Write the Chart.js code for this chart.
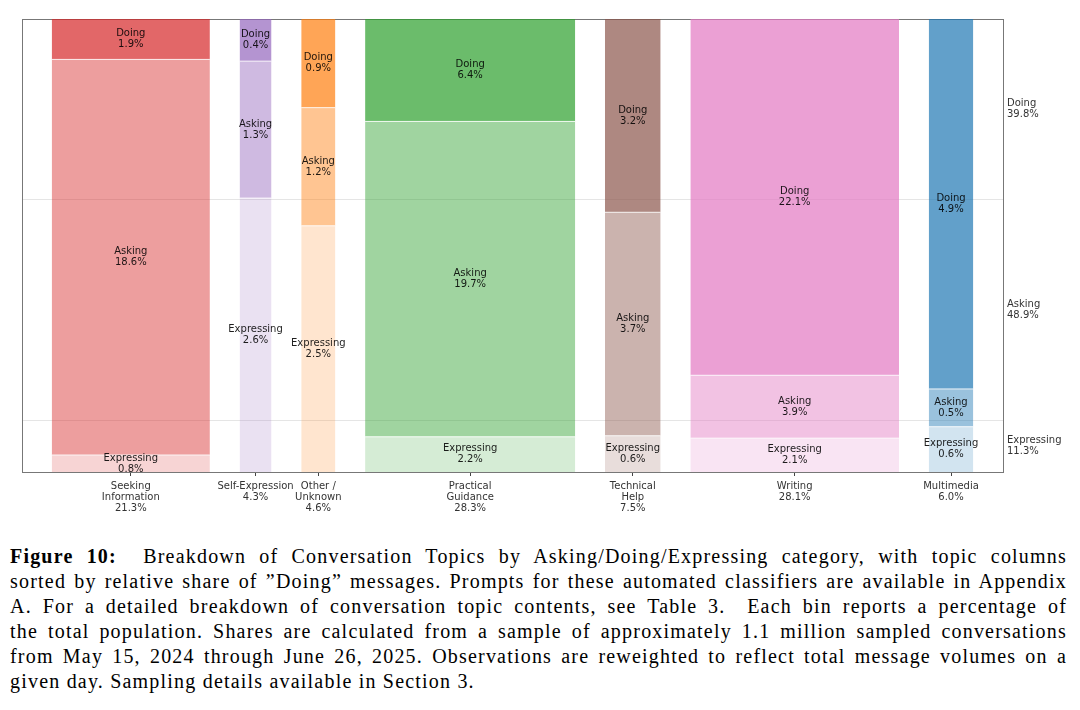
<!DOCTYPE html>
<html>
<head>
<meta charset="utf-8">
<script src="https://cdn.jsdelivr.net/npm/chart.js@4/dist/chart.umd.min.js"></script>
<style>
  html, body { margin: 0; padding: 0; background: #fff; }
  body { width: 1080px; height: 710px; position: relative; overflow: hidden; }
  #wrap { position: absolute; left: 0; top: 0; width: 1080px; height: 530px; }
  #caption { position: absolute; left: 10px; top: 544px; width: 1057px;
    font-family: "Liberation Serif", "Times New Roman", serif; font-size: 20px; color: #000; }
  #caption div { line-height: 25px; height: 25px; white-space: nowrap; text-align: justify; text-align-last: justify; }
  #caption.measure div { text-align: left; text-align-last: left; }
  #caption div.last { text-align: left; text-align-last: left; }
</style>
</head>
<body>
<div id="wrap"><canvas id="c" width="1080" height="530"></canvas></div>
<div id="caption" class="measure">
  <div><span><b>Figure 10:</b>&nbsp; Breakdown of Conversation Topics by Asking/Doing/Expressing category, with topic columns</span></div>
  <div><span>sorted by relative share of ”Doing” messages. Prompts for these automated classifiers are available in Appendix</span></div>
  <div><span>A. For a detailed breakdown of conversation topic contents, see Table 3.&nbsp; Each bin reports a percentage of</span></div>
  <div><span>the total population. Shares are calculated from a sample of approximately 1.1 million sampled conversations</span></div>
  <div><span>from May 15, 2024 through June 26, 2025. Observations are reweighted to reflect total message volumes on a</span></div>
  <div class="last"><span>given day. Sampling details available in Section 3.</span></div>
</div>
<script>
// ---- data ----
const topicLabels = [['Seeking','Information'],['Self-Expression'],['Other /','Unknown'],['Practical','Guidance'],['Technical','Help'],['Writing'],['Multimedia']];
const topicShare = [21.3, 4.3, 4.6, 28.3, 7.5, 28.1, 6.0];
const expressing = [0.8, 2.6, 2.5, 2.2, 0.6, 2.1, 0.6];
const asking     = [18.6, 1.3, 1.2, 19.7, 3.7, 3.9, 0.5];
const doing      = [1.9, 0.4, 0.9, 6.4, 3.2, 22.1, 4.9];
const overallNames = ['Expressing', 'Asking', 'Doing'];
const overallShare = [11.3, 48.9, 39.8];
const topicColors = ['#d62728', '#9467bd', '#ff7f0e', '#2ca02c', '#8c564b', '#e377c2', '#1f77b4'];

// ---- caption fitting (letter spacing so widest line fits naturally) ----
(function fitCaption() {
  const cap = document.getElementById('caption');
  const spans = Array.from(cap.querySelectorAll('span'));
  let best = Infinity;
  spans.slice(0, 5).forEach(sp => {
    const w = sp.getBoundingClientRect().width;
    const n = sp.textContent.length;
    best = Math.min(best, (1044 - w) / n);
  });
  const ls = Math.max(0, Math.min(best, 1.2));
  cap.style.letterSpacing = ls.toFixed(2) + 'px';
  cap.classList.remove('measure');
})();

// ---- layout helpers ----
const GAP = 4;
const segNames = ['Expressing', 'Asking', 'Doing'];
const segValues = [expressing, asking, doing];
const segAlpha = [0.2, 0.45, 0.7];

function rgba(hex, a) {
  const n = parseInt(hex.slice(1), 16);
  return `rgba(${(n >> 16) & 255},${(n >> 8) & 255},${n & 255},${a})`;
}

const colStart = [];
let acc = GAP;
topicShare.forEach((w) => { colStart.push(acc); acc += w + GAP; });
const xMax = acc;
const colCenter = topicShare.map((w, i) => colStart[i] + w / 2);

const datasets = [];
topicShare.forEach((w, i) => {
  const sum = expressing[i] + asking[i] + doing[i];
  let bottom = 0;
  segValues.forEach((arr, s) => {
    const h = arr[i] / sum * 100;
    const top = bottom + h;
    datasets.push({
      type: 'line',
      data: [{ x: colStart[i], y: top }, { x: colStart[i] + w, y: top }],
      fill: { value: bottom },
      backgroundColor: rgba(topicColors[i], segAlpha[s]),
      borderColor: 'rgba(255,255,255,0.85)',
      borderWidth: s === 2 ? 0 : 1,
      pointRadius: 0,
      tension: 0,
      labelLines: [segNames[s], arr[i].toFixed(1) + '%'],
      labelY: (bottom + top) / 2,
      labelX: colCenter[i]
    });
    bottom = top;
  });
});

// cumulative overall positions
const cum = [];
let c0 = 0;
overallShare.forEach(v => { cum.push(c0 + v); c0 += v; });
const gridVals = [cum[0], cum[1]];
const midVals = overallShare.map((v, k) => (k === 0 ? 0 : cum[k - 1]) + v / 2);

const FONT = { family: 'DejaVu Sans', size: 10, lineHeight: 1.1 };
const FRAME = '#777';

const segLabelPlugin = {
  id: 'segLabels',
  afterDraw(chart) {
    const { ctx, scales } = chart;
    ctx.save();
    ctx.font = '10px "DejaVu Sans"';
    ctx.fillStyle = 'rgba(0,0,0,0.88)';
    ctx.textAlign = 'center';
    ctx.textBaseline = 'middle';
    chart.data.datasets.forEach(ds => {
      if (!ds.labelLines) return;
      const x = scales.x.getPixelForValue(ds.labelX);
      const y = scales.y.getPixelForValue(ds.labelY);
      const lh = 11;
      const n = ds.labelLines.length;
      ds.labelLines.forEach((t, k) => {
        ctx.fillText(t, x, y + (k - (n - 1) / 2) * lh);
      });
    });
    ctx.restore();
  }
};

new Chart(document.getElementById('c'), {
  type: 'line',
  data: { datasets },
  plugins: [segLabelPlugin],
  options: {
    responsive: false,
    animation: false,
    layout: { padding: { left: 22, top: 19, right: 0, bottom: 0 } },
    plugins: { legend: { display: false }, tooltip: { enabled: false } },
    scales: {
      x: {
        type: 'linear', position: 'bottom', min: 0, max: xMax,
        afterBuildTicks: (s) => { s.ticks = colCenter.map(v => ({ value: v })); },
        afterFit: (s) => { s.height = 58; },
        ticks: {
          autoSkip: false, maxRotation: 0, padding: 5, color: '#333', font: FONT,
          callback: (v, i) => topicLabels[i].concat([topicShare[i].toFixed(1) + '%'])
        },
        grid: { drawOnChartArea: false, tickLength: 4, tickColor: '#444' },
        border: { color: FRAME, width: 1 }
      },
      x2: {
        type: 'linear', position: 'top', min: 0, max: xMax,
        ticks: { display: false },
        grid: { display: false, drawTicks: false, tickLength: 0 },
        afterFit: (s) => { s.height = 0; },
        border: { display: true, color: FRAME, width: 1 }
      },
      y: {
        type: 'linear', position: 'left', min: 0, max: 100, z: 1,
        afterBuildTicks: (s) => { s.ticks = gridVals.map(v => ({ value: v })); },
        afterFit: (s) => { s.width = 0; },
        ticks: { display: false },
        grid: { color: 'rgba(0,0,0,0.1)', lineWidth: 1, drawTicks: false, tickLength: 0 },
        border: { color: FRAME, width: 1 }
      },
      y2: {
        type: 'linear', position: 'right', min: 0, max: 100,
        afterBuildTicks: (s) => { s.ticks = midVals.map(v => ({ value: v })); },
        afterFit: (s) => { s.width = 77; },
        ticks: {
          padding: 4, color: '#333', font: FONT, crossAlign: 'near',
          callback: (v, i) => [overallNames[i], overallShare[i].toFixed(1) + '%']
        },
        grid: { display: false, drawTicks: false, tickLength: 0 },
        border: { display: true, color: FRAME, width: 1 }
      }
    }
  }
});
</script>
</body>
</html>
